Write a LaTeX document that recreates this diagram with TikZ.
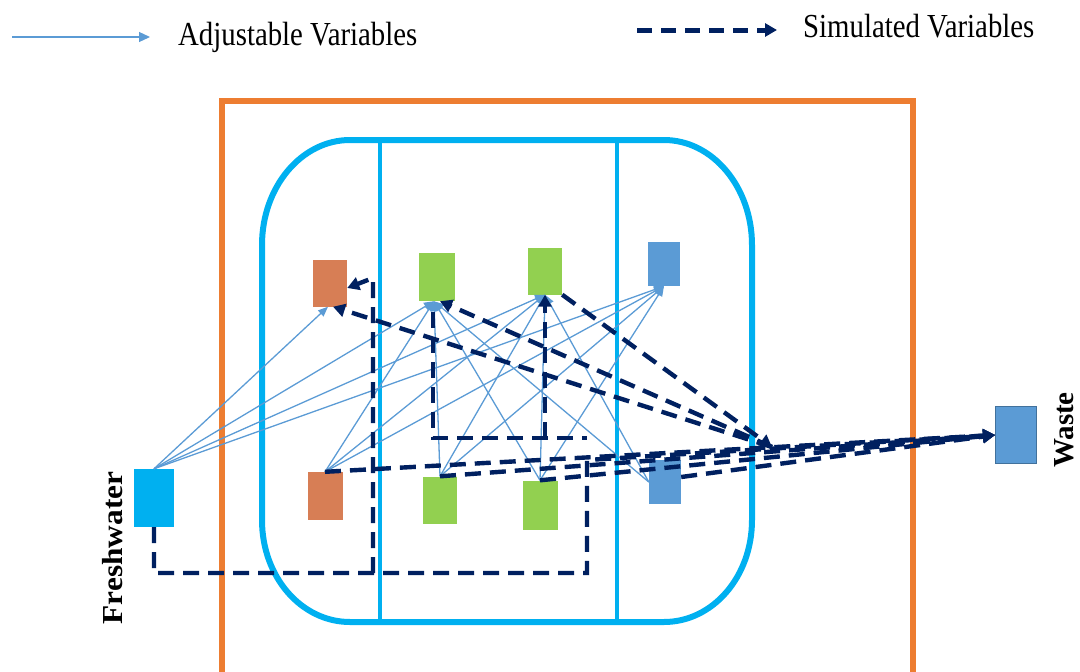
\documentclass[tikz,border=0pt]{standalone}
\usepackage{fontspec}
\setmainfont{Liberation Serif}
\usetikzlibrary{arrows.meta}
\definecolor{frameorange}{HTML}{ED7D31}
\definecolor{zonecyan}{HTML}{00B0F0}
\definecolor{unitorange}{HTML}{D77E55}
\definecolor{unitgreen}{HTML}{92D050}
\definecolor{unitblue}{HTML}{5B9BD5}
\definecolor{unitblueedge}{HTML}{41719C}
\definecolor{simnavy}{HTML}{002060}
\definecolor{adjblue}{HTML}{5B9BD5}

\begin{document}
\begin{tikzpicture}[x=1pt,y=-1pt,
  unit/.style={rectangle,inner sep=0pt,minimum width=34pt,minimum height=47pt},
  adj/.style={draw=adjblue,line width=1.3pt,-{Triangle[length=10pt,width=8pt]}},
  sim/.style={draw=simnavy,line width=4.4pt,dash pattern=on 16pt off 9pt},
  simarrow/.style={sim,-{Triangle[length=12pt,width=13pt]}},
  legendtext/.style={font=\fontsize{32}{36}\selectfont,inner sep=0pt,anchor=west},
  sidelabel/.style={font=\bfseries\fontsize{29}{30}\selectfont,inner sep=0pt,rotate=90}
]
\useasboundingbox (0,0) rectangle (1080,672);

% legend
\coordinate (adjA) at (12,37);
\coordinate (adjB) at (150,37);
\draw[adj,-{Triangle[length=11pt,width=10pt]}] (adjA) -- (adjB);
\node[legendtext] (adjtxt) at (178,37) {\scalebox{0.9}[1.05]{Adjustable Variables}};
\coordinate (simA) at (637,30);
\coordinate (simB) at (777,30);
\draw[simarrow,line width=5pt,dash pattern=on 15pt off 9pt] (simA) -- (simB);
\node[legendtext] (simtxt) at (803,26) {\scalebox{0.9}[1.05]{Simulated Variables}};

% outer system boundary
\draw[frameorange,line width=5.5pt] (222,680) -- (222,101) -- (913,101) -- (913,680);

% inner zone with rounded corners
\draw[zonecyan,line width=6pt]
  (350,140) -- (664,140)
  .. controls (712.6,140) and (752,187) .. (752,245)
  -- (752,520)
  .. controls (752,577) and (712.6,622) .. (664,622)
  -- (350,622)
  .. controls (301.4,622) and (262,577) .. (262,520)
  -- (262,245)
  .. controls (262,187) and (301.4,140) .. (350,140) -- cycle;
\draw[zonecyan,line width=4.5pt] (380,140) -- (380,622);
\draw[zonecyan,line width=4.5pt] (617,140) -- (617,622);

% units
\node[unit,fill=unitorange] (ot) at (330,283) {};
\node[unit,fill=unitgreen,minimum width=36pt,minimum height=48pt] (g1t) at (437,277) {};
\node[unit,fill=unitgreen] (g2t) at (545,271) {};
\node[unit,fill=unitblue,minimum width=32pt,minimum height=44pt] (bt) at (664,264) {};
\node[unit,fill=unitorange,minimum width=35pt,minimum height=48pt] (ob) at (325,496) {};
\node[unit,fill=unitgreen] (g1b) at (440,500) {};
\node[unit,fill=unitgreen,minimum width=35pt,minimum height=49pt] (g2b) at (540,505) {};
\node[unit,fill=unitblue,minimum width=32pt,minimum height=44pt] (bb) at (665,482) {};
\node[unit,fill=zonecyan,minimum width=40pt,minimum height=58pt] (fw) at (154,498) {};
\node[unit,fill=unitblue,draw=unitblueedge,line width=0.8pt,minimum width=41pt,minimum height=57pt] (waste) at (1016,435) {};

\node[sidelabel] (fwlabel) at (113,548) {\scalebox{1.08}[1]{Freshwater}};
\node[sidelabel] (wastelabel) at (1064,430) {Waste};

% adjustable variables
\draw[adj] (fw.north) -- ([xshift=-2pt]ot.south);
\draw[adj] (fw.north) -- ([xshift=-3pt]g1t.south);
\draw[adj] (fw.north) -- (g2t.south);
\draw[adj] (fw.north) -- (bt.south);
\draw[adj] (ob.north) -- ([xshift=-3pt]g1t.south);
\draw[adj] (ob.north) -- (g2t.south);
\draw[adj] (ob.north) -- (bt.south);
\draw[adj] (g1b.north) -- ([xshift=-3pt]g1t.south);
\draw[adj] (g1b.north) -- (g2t.south);
\draw[adj] (g1b.north) -- (bt.south);
\draw[adj] (g2b.north) -- ([xshift=-3pt]g1t.south);
\draw[adj] (g2b.north) -- (g2t.south);
\draw[adj] (g2b.north) -- (bt.south);
\draw[adj] (bb.west) -- ([xshift=-3pt]g1t.south);
\draw[adj] (bb.west) -- (g2t.south);

% simulated variables
\coordinate (fwdown) at (154,573);
\coordinate (fwright) at (587,573);
\coordinate (fwup) at (587,460);
\coordinate (recbase) at (373,573);
\coordinate (rectop) at (373,278);
\coordinate (hub) at (772,447);
\coordinate (loopA) at (433,312);
\coordinate (loopB) at (433,438);
\coordinate (loopC) at (587,438);
\coordinate (loopD) at (545,438);

\draw[simarrow] (fw.south) -- (fwdown) -- (fwright) -- (fwup) -- (waste.west);
\draw[simarrow] (recbase) -- (rectop) -- ([yshift=-5pt]ot.east);
\draw[simarrow] (ob.north) -- (waste.west);
\draw[simarrow] (g1b.north) -- (waste.west);
\draw[simarrow] (g2b.north) -- (waste.west);
\draw[simarrow] ([yshift=5pt]bb.east) -- (waste.west);
\draw[simarrow] (hub) -- ([xshift=3pt]ot.south);
\draw[simarrow] (hub) -- ([xshift=3pt]g1t.south);
\draw[simarrow] (g2t.south east) -- (hub);
\draw[sim] (loopA) -- (loopB) -- (loopC);
\draw[simarrow] (loopD) -- (g2t.south);
\end{tikzpicture}
\end{document}
